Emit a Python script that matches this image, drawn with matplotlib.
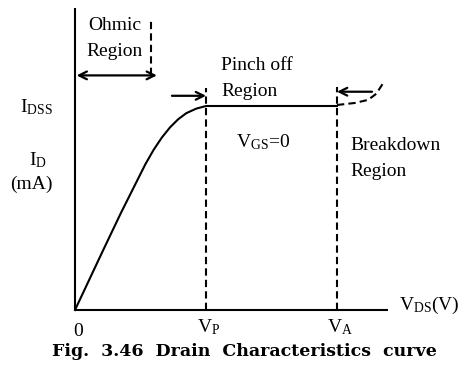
import matplotlib
matplotlib.use("Agg")
import matplotlib.pyplot as plt

plt.rcParams['font.family'] = ['Liberation Serif', 'DejaVu Serif']
plt.rcParams['mathtext.fontset'] = 'custom'
plt.rcParams['mathtext.rm'] = 'Liberation Serif'
plt.rcParams['mathtext.it'] = 'Liberation Serif'

# drain characteristic (V_DS in V, I_D in mA, I_DSS = 10)
v_ds = [0, 0.85, 1.4, 1.9, 2.15, 2.4, 2.65, 2.9, 3.15, 3.4, 3.7, 4.0, 8.0]
i_d = [0, 2.9, 4.75, 6.35, 7.15, 7.85, 8.45, 8.95, 9.35, 9.65, 9.87, 10.0, 10.0]
# breakdown part (dashed)
v_bd = [8.0, 8.55, 8.95, 9.2, 9.4]
i_bd = [10.05, 10.15, 10.3, 10.6, 11.1]

v_p = 4.0
v_a = 8.0
i_dss = 10.0
v_ohmic = 2.32

fig = plt.figure(figsize=(4.7, 3.75), dpi=100)
ax = fig.add_axes([0, 0, 1, 1])
ax.set_xlim(-75 / 32.75, 395 / 32.75)
ax.set_ylim(-65 / 20.4, 310 / 20.4)
ax.axis('off')

lw = 1.5
# axes
ax.plot([0, 0], [0, 14.8], color='black', lw=lw, solid_capstyle='butt')
ax.plot([0, 9.56], [0, 0], color='black', lw=lw, solid_capstyle='butt')

# curve
ax.plot(v_ds, i_d, color='black', lw=lw, solid_joinstyle='round')
ax.plot(v_bd, i_bd, color='black', lw=lw, ls=(0, (3.5, 2)))

# dashed markers
ax.plot([v_p, v_p], [0, 10.9], color='black', lw=lw, ls=(0, (3.5, 2)))
ax.plot([v_a, v_a], [0, 10.95], color='black', lw=lw, ls=(0, (3.5, 2)))
ax.plot([v_ohmic, v_ohmic], [11.5, 14.2], color='black', lw=lw, ls=(0, (3.5, 2)))

arrow = dict(arrowstyle='->', color='black', lw=1.6, mutation_scale=14,
             shrinkA=0, shrinkB=0)
ax.annotate('', xy=(0.05, 11.5), xytext=(2.5, 11.5),
            arrowprops=dict(arrow, arrowstyle='<->'))
ax.annotate('', xy=(4.0, 10.5), xytext=(2.96, 10.5), arrowprops=arrow)
ax.annotate('', xy=(8.0, 10.7), xytext=(9.07, 10.7), arrowprops=arrow)

fs = 14
def px(x, y):
    return ((x - 75) / 32.75, (310 - y) / 20.4)

ax.text(*px(115, 25), 'Ohmic', fontsize=fs, ha='center', va='center')
ax.text(*px(115, 52), 'Region', fontsize=fs, ha='center', va='center')
ax.text(*px(221, 66), 'Pinch off', fontsize=fs, ha='left', va='center')
ax.text(*px(221, 92), 'Region', fontsize=fs, ha='left', va='center')
ax.text(*px(20, 107), r'$\mathregular{I_{DSS}}$', fontsize=fs, ha='left', va='center')
ax.text(*px(38, 160), r'$\mathregular{I_{D}}$', fontsize=fs, ha='center', va='center')
ax.text(*px(31, 184), '(mA)', fontsize=fs, ha='center', va='center')
ax.text(*px(236, 142), r'$\mathregular{V_{GS}}$=0', fontsize=fs, ha='left', va='center')
ax.text(*px(350, 145), 'Breakdown', fontsize=fs, ha='left', va='center')
ax.text(*px(350, 172), 'Region', fontsize=fs, ha='left', va='center')
ax.text(*px(399, 305), r'$\mathregular{V_{DS}}$(V)', fontsize=fs, ha='left', va='center')
ax.text(*px(78, 332), '0', fontsize=fs, ha='center', va='center')
ax.text(*px(209, 327), r'$\mathregular{V_{P}}$', fontsize=fs, ha='center', va='center')
ax.text(*px(340, 327), r'$\mathregular{V_{A}}$', fontsize=fs, ha='center', va='center')

ax.text(*px(244, 351), 'Fig.  3.46  Drain  Characteristics  curve',
        fontsize=12.5, fontweight='bold', family='DejaVu Serif',
        ha='center', va='center')

fig.savefig('out.png', dpi=100)
